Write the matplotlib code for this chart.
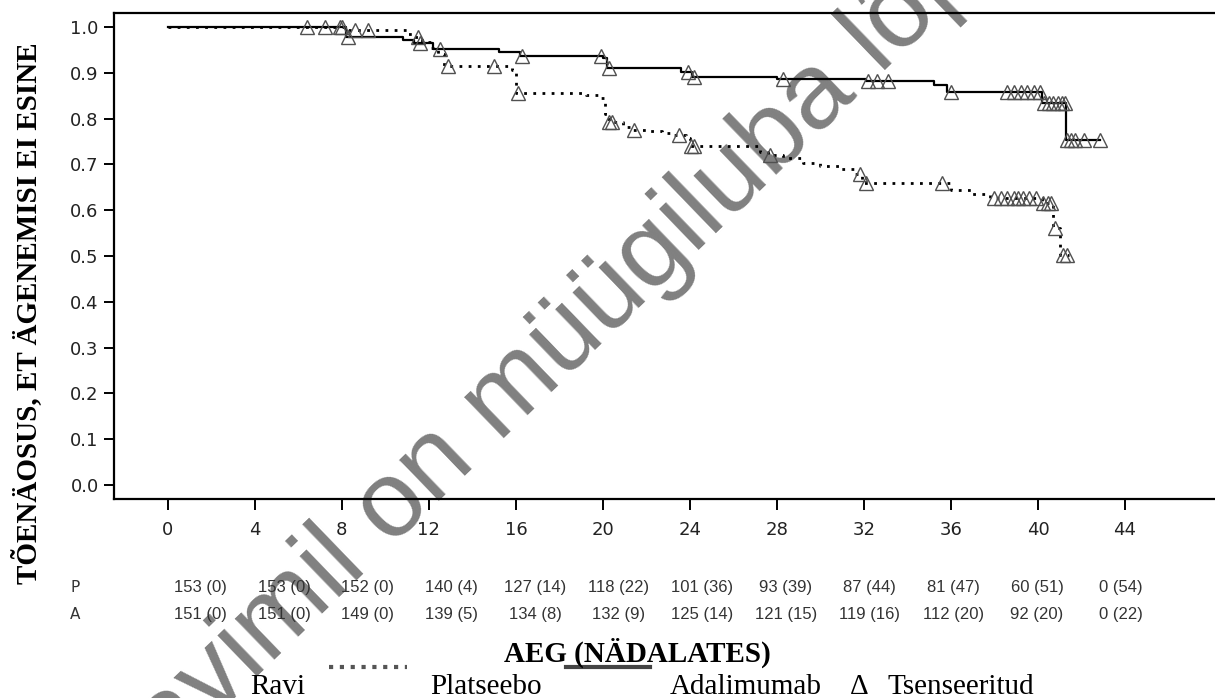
import numpy as np
import matplotlib.pyplot as plt
from matplotlib.lines import Line2D
from matplotlib.transforms import blended_transform_factory

# Kaplan-Meier steps (time in weeks, survival after the event)
ada_t = [0, 8.2, 10.8, 11.3, 12.2, 15.2, 16.2, 20.0, 20.2, 23.6, 24.1, 28.0, 32.1, 35.2, 35.8, 40.2, 41.3]
ada_s = [1.0, 0.978, 0.972, 0.965, 0.952, 0.945, 0.937, 0.932, 0.911, 0.901, 0.890, 0.886, 0.881, 0.873, 0.858, 0.833, 0.753]
ada_end = 42.85

pla_t = [0, 8.3, 11.0, 11.3, 11.7, 12.1, 12.4, 12.7, 15.8, 16.0, 19.2, 19.8, 20.1, 20.3, 20.9, 21.4,
         22.0, 22.7, 23.2, 23.8, 24.0, 27.2, 27.6, 28.3, 29.2, 30.0, 30.9, 31.6, 31.9, 36.0, 36.9,
         37.8, 40.2, 40.7, 41.0]
pla_s = [1.0, 0.993, 0.985, 0.978, 0.968, 0.955, 0.94, 0.915, 0.906, 0.856, 0.851, 0.845, 0.81, 0.792, 0.782, 0.775,
         0.772, 0.768, 0.764, 0.758, 0.74, 0.728, 0.72, 0.713, 0.704, 0.697, 0.69, 0.68, 0.659, 0.645, 0.636,
         0.627, 0.616, 0.561, 0.502]
pla_end = 41.45

# censored times
ada_cens = [6.4, 7.9, 8.3, 11.6, 12.5, 16.3, 19.9, 20.3, 23.9, 24.2, 28.3, 32.2, 32.6, 33.1, 36.0,
            38.6, 38.9, 39.2, 39.5, 39.8, 40.1, 40.3, 40.5, 40.7, 40.9, 41.1, 41.25,
            41.35, 41.5, 41.7, 42.1, 42.85]
pla_cens = [7.2, 8.0, 8.6, 9.2, 11.5, 12.9, 15.0, 16.1, 20.3, 20.4, 21.45, 23.5, 24.05, 24.2, 27.7,
            31.8, 32.1, 35.6, 38.0, 38.3, 38.6, 38.9, 39.1, 39.3, 39.6, 39.9, 40.25, 40.45, 40.6,
            40.8, 41.15, 41.35]

weeks = list(range(0, 45, 4))
risk_p = ["153 (0)", "153 (0)", "152 (0)", "140 (4)", "127 (14)", "118 (22)", "101 (36)",
          "93 (39)", "87 (44)", "81 (47)", "60 (51)", "0 (54)"]
risk_a = ["151 (0)", "151 (0)", "149 (0)", "139 (5)", "134 (8)", "132 (9)", "125 (14)",
          "121 (15)", "119 (16)", "112 (20)", "92 (20)", "0 (22)"]


def surv_at(t_steps, s_steps, t):
    idx = np.searchsorted(t_steps, t, side="right") - 1
    return np.asarray(s_steps)[idx]


fig = plt.figure(figsize=(12.15, 6.98), dpi=100)
ax = fig.add_axes([0.0938, 0.2851, 0.9062, 0.6963])

ax.step(ada_t + [ada_end], ada_s + [ada_s[-1]], where="post", color="black", lw=1.6, zorder=3)
ax.step(pla_t + [pla_end], pla_s + [pla_s[-1]], where="post", color="black", lw=2.0,
        linestyle=(0, (1, 2.3)), zorder=3)
ax.plot(ada_cens, surv_at(ada_t, ada_s, ada_cens), linestyle="none", marker="^", mfc="none",
        mec="#505050", ms=10, mew=1.0, zorder=4)
ax.plot(pla_cens, surv_at(pla_t, pla_s, pla_cens), linestyle="none", marker="^", mfc="none",
        mec="#505050", ms=10, mew=1.0, zorder=4)

ax.set_xlim(-2.48, 48.14)
ax.set_ylim(-0.0306, 1.0306)
ax.set_xticks(weeks)
ax.set_yticks(np.arange(0, 1.01, 0.1))
ax.set_yticklabels([f"{v:.1f}" for v in np.arange(0, 1.01, 0.1)])
ax.spines["right"].set_visible(False)
for s in ["left", "top", "bottom"]:
    ax.spines[s].set_linewidth(1.6)
ax.tick_params(axis="x", direction="out", length=8, width=1.4, pad=8, labelsize=13,
               labelcolor="#222222")
ax.tick_params(axis="y", direction="out", length=7, width=1.4, pad=4, labelsize=13,
               labelcolor="#222222")

# watermark
ax.text(0.0938, -0.1676, "Ravimil on müügiluba lõpenud", transform=fig.transFigure,
        rotation=44, rotation_mode="anchor", ha="left", va="baseline", fontsize=78,
        family="Liberation Sans", color="#808080", zorder=0.5, clip_on=False)

# risk table
tr = blended_transform_factory(ax.transData, fig.transFigure)
table_x = np.linspace(1.5, 43.8, len(weeks))
fig.text(0.062, 0.1576, "P", ha="center", va="center", fontsize=11, color="#333333")
fig.text(0.062, 0.1203, "A", ha="center", va="center", fontsize=11, color="#333333")
for x, p, a in zip(table_x, risk_p, risk_a):
    fig.text(x, 0.1576, p, transform=tr, ha="center", va="center", fontsize=12,
             family="Liberation Sans", color="#333333")
    fig.text(x, 0.1203, a, transform=tr, ha="center", va="center", fontsize=12,
             family="Liberation Sans", color="#333333")

# axis titles
fig.text(0.022, 0.5516, "TÕENÄOSUS, ET ÄGENEMISI EI ESINE", rotation=90, ha="center", va="center",
         fontsize=21, fontweight="bold", family="Liberation Serif")
fig.text(0.525, 0.0516, "AEG (NÄDALATES)", ha="center", va="baseline", fontsize=21,
         fontweight="bold", family="Liberation Serif")

# legend row
fig.add_artist(Line2D([329 / 1215, 407 / 1215], [0.0444, 0.0444], color="#555555", lw=3,
                      linestyle=(0, (1, 1.6))))
fig.add_artist(Line2D([566 / 1215, 650 / 1215], [0.0444, 0.0444], color="#444444", lw=3))
for x, txt in [(250, "Ravi"), (430, "Platseebo"), (670, "Adalimumab"), (850, "Δ"), (888, "Tsenseeritud")]:
    fig.text(x / 1215, 0.006, txt, ha="left", va="baseline", fontsize=21, family="Liberation Serif")

fig.savefig("out.png", dpi=100)
